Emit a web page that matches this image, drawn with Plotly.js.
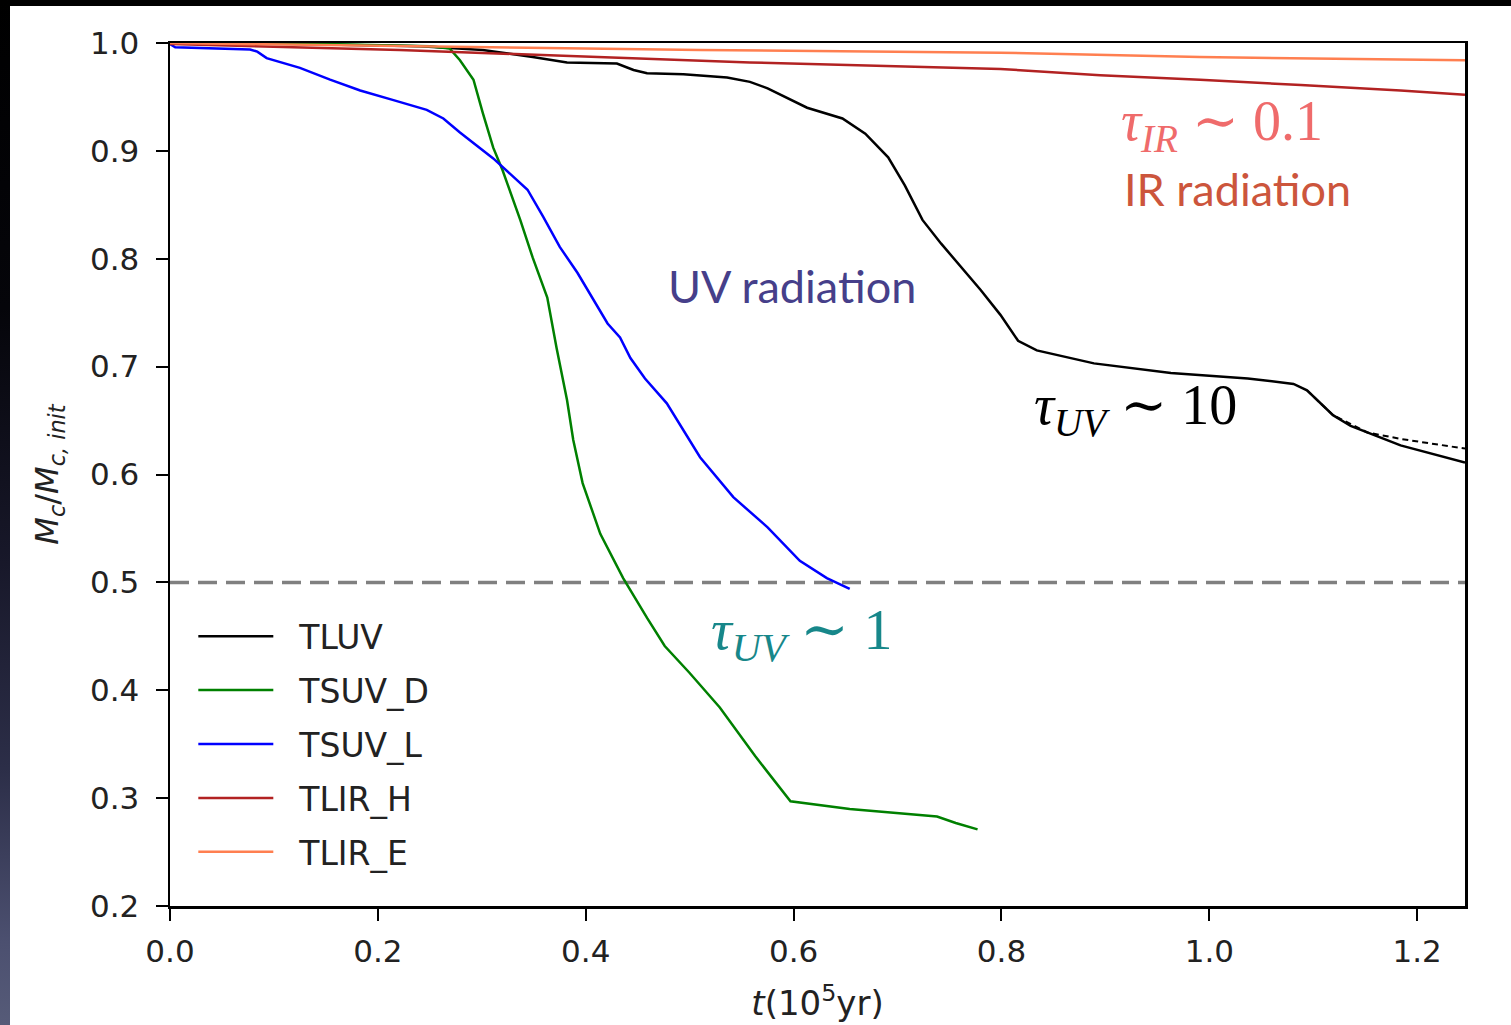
<!DOCTYPE html>
<html>
<head>
<meta charset="utf-8">
<script src="https://cdn.plot.ly/plotly-3.0.1.min.js"></script>
<style>
  html, body { margin: 0; padding: 0; width: 1511px; height: 1025px; overflow: hidden; background: #000; }
  #edge { position: absolute; left: 0; top: 0; width: 10px; height: 1025px;
          background: linear-gradient(to bottom, #000 0%, #05050a 30%, #18182a 55%, #2c2e48 75%, #4c5070 92%, #565b78 100%); }
  #chart { position: absolute; left: 10px; top: 6px; width: 1501px; height: 1019px; background: #fff; }
</style>
</head>
<body>
<div id="edge"></div>
<div id="chart"></div>
<script>
// Cloud mass fraction M_c / M_c,init against time (units of 1e5 yr)

// TLUV
const tluvT = [0.000, 0.125, 0.241, 0.301, 0.349, 0.382, 0.430, 0.446, 0.459, 0.494, 0.536, 0.558, 0.575,
               0.613, 0.647, 0.669, 0.691, 0.707, 0.724, 0.742, 0.780, 0.799, 0.816, 0.834, 0.889, 0.963,
               1.037, 1.081, 1.094, 1.119, 1.136, 1.184, 1.246];
const tluvM = [1.000, 0.999, 0.997, 0.9935, 0.987, 0.982, 0.981, 0.975, 0.972, 0.971, 0.968, 0.964, 0.958,
               0.940, 0.930, 0.916, 0.894, 0.868, 0.836, 0.814, 0.771, 0.748, 0.724, 0.715, 0.703, 0.694,
               0.689, 0.684, 0.678, 0.655, 0.645, 0.627, 0.611];
// TLUV alternative run (dashed branch at late times)
const tluvAltT = [1.094, 1.119, 1.152, 1.184, 1.246];
const tluvAltM = [0.678, 0.655, 0.639, 0.633, 0.624];

// TSUV_D
const tsuvDT = [0.000, 0.150, 0.250, 0.269, 0.279, 0.292, 0.301, 0.311, 0.320, 0.337, 0.349, 0.363, 0.372,
                0.382, 0.388, 0.397, 0.414, 0.436, 0.459, 0.476, 0.500, 0.529, 0.563, 0.597, 0.654, 0.703,
                0.738, 0.756, 0.777];
const tsuvDM = [1.000, 0.999, 0.997, 0.995, 0.984, 0.966, 0.935, 0.903, 0.882, 0.836, 0.801, 0.764, 0.717,
                0.669, 0.632, 0.592, 0.545, 0.504, 0.467, 0.441, 0.416, 0.384, 0.339, 0.297, 0.290, 0.286,
                0.283, 0.277, 0.271];

// TSUV_L
const tsuvLT = [0.000, 0.005, 0.077, 0.084, 0.093, 0.125, 0.154, 0.183, 0.215, 0.247, 0.263, 0.279, 0.311,
                0.344, 0.359, 0.375, 0.392, 0.421, 0.433, 0.443, 0.457, 0.478, 0.510, 0.542, 0.575, 0.606,
                0.632, 0.654];
const tsuvLM = [0.999, 0.996, 0.994, 0.992, 0.986, 0.977, 0.966, 0.956, 0.947, 0.938, 0.930, 0.917, 0.893,
                0.864, 0.839, 0.811, 0.787, 0.740, 0.727, 0.708, 0.689, 0.666, 0.616, 0.579, 0.551, 0.520,
                0.504, 0.494];

// TLIR_H
const tlirHT = [0.000, 0.221, 0.558, 0.703, 0.799, 0.895, 0.991, 1.088, 1.184, 1.246];
const tlirHM = [0.999, 0.9935, 0.982, 0.978, 0.976, 0.970, 0.966, 0.961, 0.956, 0.952];

// TLIR_E
const tlirET = [0.000, 0.221, 0.510, 0.799, 0.991, 1.246];
const tlirEM = [1.000, 0.997, 0.9935, 0.991, 0.987, 0.984];

// Half-mass reference level
const halfMass = 0.5;

const xTicks = [0.0, 0.2, 0.4, 0.6, 0.8, 1.0, 1.2];
const yTicks = [0.2, 0.3, 0.4, 0.5, 0.6, 0.7, 0.8, 0.9, 1.0];

const lineW = 2.5;
const pad = '\u00a0\u00a0';   // gap between legend line and label
function run(name, t, m, color, group) {
  return { x: t, y: m, name: pad + name, type: 'scatter', mode: 'lines',
           line: { color: color, width: lineW }, legendgroup: group };
}

const traces = [
  run('TLUV', tluvT, tluvM, '#000000', 'g1'),
  { x: tluvAltT, y: tluvAltM, type: 'scatter', mode: 'lines', showlegend: false,
    line: { color: '#000000', width: 2, dash: '6px,4px' }, hoverinfo: 'skip' },
  run('TSUV_D', tsuvDT, tsuvDM, '#008000', 'g2'),
  run('TSUV_L', tsuvLT, tsuvLM, '#0000ff', 'g3'),
  run('TLIR_H', tlirHT, tlirHM, '#b22222', 'g4'),
  run('TLIR_E', tlirET, tlirEM, '#ff7f50', 'g5')
];

const tickFont = { family: 'DejaVu Sans', size: 31, color: '#222' };
const serif = 'Liberation Serif, DejaVu Serif, serif';
const sans = 'Lato, Noto Sans, sans-serif';
const sim = ' \u223c ';

const layout = {
  width: 1501, height: 1019,
  margin: { l: 160, r: 46, t: 37, b: 119 },
  paper_bgcolor: '#ffffff', plot_bgcolor: '#ffffff',
  showlegend: true,
  legend: { x: 0.018, y: 0.345, xanchor: 'left', yanchor: 'top',
            bgcolor: 'rgba(255,255,255,0)', borderwidth: 0,
            font: { family: 'DejaVu Sans', size: 33, color: '#222' },
            itemwidth: 75, tracegroupgap: 8 },
  xaxis: {
    range: [0, 1.246], tickvals: xTicks, tickformat: '.1f',
    showgrid: false, zeroline: false, showline: true, linecolor: '#000', linewidth: 2.5, mirror: true,
    ticks: 'outside', ticklen: 12, tickwidth: 2, tickcolor: '#000', tickfont: tickFont,
    ticklabelstandoff: 4,
    title: { text: '<i>t</i>(10<sup>5</sup>yr)', font: { family: 'DejaVu Sans', size: 34, color: '#222' }, standoff: 24 }
  },
  yaxis: {
    range: [0.2, 1.0], tickvals: yTicks, tickformat: '.1f',
    showgrid: false, zeroline: false, showline: true, linecolor: '#000', linewidth: 2.5, mirror: true,
    ticks: 'outside', ticklen: 12, tickwidth: 2, tickcolor: '#000', tickfont: tickFont,
    ticklabelstandoff: 10,
    title: { text: '<i>M</i><sub><i>c</i></sub>/<i>M</i><sub><i>c, init</i></sub>',
             font: { family: 'DejaVu Sans', size: 32, color: '#222' }, standoff: 22 }
  },
  shapes: [
    { type: 'line', xref: 'paper', x0: 0, x1: 1, yref: 'y', y0: halfMass, y1: halfMass,
      line: { color: '#808080', width: 3.5, dash: '19px,9px' }, layer: 'below' }
  ],
  annotations: [
    { text: '<i>τ</i><sub><i>IR</i></sub>' + sim + '0.1', x: 1.0125, y: 0.924, xref: 'x', yref: 'y',
      showarrow: false, font: { family: serif, size: 56, color: '#ef6b6b' } },
    { text: 'IR radiation', x: 1.027, y: 0.865, xref: 'x', yref: 'y',
      showarrow: false, font: { family: sans, size: 45, color: '#cc553c' } },
    { text: 'UV radiation', x: 0.598, y: 0.775, xref: 'x', yref: 'y',
      showarrow: false, font: { family: sans, size: 45, color: '#463f8a' } },
    { text: '<i>τ</i><sub><i>UV</i></sub>' + sim + '10', x: 0.929, y: 0.661, xref: 'x', yref: 'y',
      showarrow: false, font: { family: serif, size: 56, color: '#000000' } },
    { text: '<i>τ</i><sub><i>UV</i></sub>' + sim + '1', x: 0.608, y: 0.453, xref: 'x', yref: 'y',
      showarrow: false, font: { family: serif, size: 58, color: '#17878a' } }
  ]
};

Plotly.newPlot('chart', traces, layout, { displayModeBar: false, staticPlot: true });
</script>
</body>
</html>
